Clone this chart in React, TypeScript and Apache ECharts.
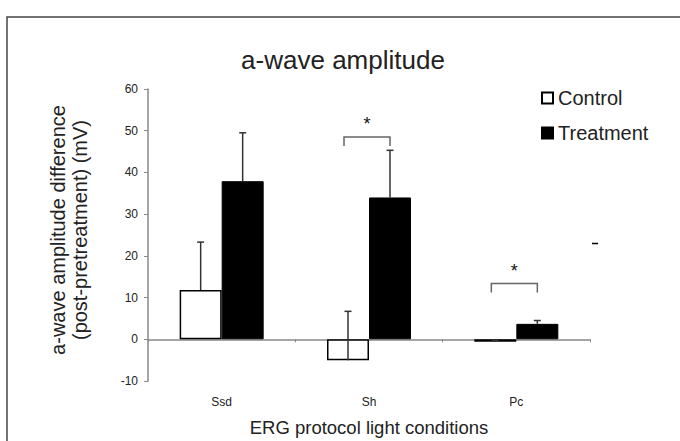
import React, { useEffect, useRef } from "react";
import * as echarts from "echarts";

const categories = ["Ssd", "Sh", "Pc"];
const seriesNames = ["Control", "Treatment"];
const controlValues = [11.8, -5.0, -0.6];
const treatmentValues = [37.9, 34.0, 3.7];
const controlErrors = [11.5, 11.7, 0.3];
const treatmentErrors = [11.6, 11.3, 0.8];
const yMin = -10;
const yMax = 60;
const yInterval = 10;
const sigCategories = [1, 2];
const sigLevels = [48.5, 13.4];
const sigLabels = ["*", "*"];

const FONT = '"Liberation Sans", Arial, Helvetica, sans-serif';
const TEXT = "#222";
const BAR_W = 42;

export default function App() {
  const ref = useRef<HTMLDivElement>(null);
  useEffect(() => {
    if (!ref.current) return;
    const chart = echarts.init(ref.current, undefined, { renderer: "svg" });

    const errRender = (offset: number) => (params: any, api: any) => {
      const c = api.value(0);
      const base = api.coord([c, api.value(1)]);
      const top = api.coord([c, api.value(2)]);
      const x = base[0] + offset;
      const st = { stroke: "#333", lineWidth: 1.5 };
      return {
        type: "group",
        children: [
          { type: "line", shape: { x1: x, y1: base[1], x2: x, y2: top[1] }, style: st },
          { type: "line", shape: { x1: x - 3.5, y1: top[1], x2: x + 3.5, y2: top[1] }, style: st },
        ],
      };
    };

    const bracketRender = (params: any, api: any) => {
      const p = api.coord([api.value(0), api.value(1)]);
      const x1 = p[0] - 25;
      const x2 = p[0] + 21;
      const y = p[1];
      return {
        type: "group",
        children: [
          {
            type: "polyline",
            shape: { points: [[x1, y + 9], [x1, y], [x2, y], [x2, y + 9]] },
            style: { stroke: "#666", lineWidth: 1.5, fill: "none" },
          },
          {
            type: "text",
            x: (x1 + x2) / 2,
            y: y - 12.5,
            style: {
              text: sigLabels[params.dataIndex],
              fontSize: 18,
              fontFamily: FONT,
              fill: "#111",
              align: "center",
              verticalAlign: "middle",
            },
          },
        ],
      };
    };

    chart.setOption({
      animation: false,
      backgroundColor: "#fff",
      textStyle: { fontFamily: FONT },
      grid: { left: 148, right: 90, top: 89, bottom: 60 },
      legend: {
        orient: "vertical",
        left: 541,
        top: 88,
        padding: 0,
        icon: "rect",
        itemWidth: 11,
        itemHeight: 11,
        itemGap: 15,
        data: seriesNames,
        textStyle: { fontSize: 20, color: TEXT, fontFamily: FONT, lineHeight: 20 },
      },
      xAxis: [
        {
          type: "category",
          data: categories,
          axisLine: { onZero: true, lineStyle: { color: "#888", width: 1.5 } },
          axisTick: { show: true, inside: false, length: 3, lineStyle: { color: "#888" } },
          axisLabel: { show: false },
        },
        {
          type: "category",
          data: categories,
          position: "bottom",
          axisLine: { show: false, onZero: false },
          axisTick: { show: false },
          axisLabel: { show: true, margin: 15, fontSize: 12, color: TEXT, fontFamily: FONT },
        },
      ],
      yAxis: {
        type: "value",
        min: yMin,
        max: yMax,
        interval: yInterval,
        axisLine: { show: true, lineStyle: { color: "#888", width: 1.5 } },
        axisTick: { show: true, length: 4, lineStyle: { color: "#888" } },
        axisLabel: { fontSize: 12, color: TEXT, margin: 10, fontFamily: FONT },
        splitLine: { show: false },
      },
      series: [
        {
          name: seriesNames[0],
          type: "bar",
          data: controlValues,
          barWidth: BAR_W,
          barGap: "0%",
          itemStyle: { color: "#fff", borderColor: "#000", borderWidth: 1.5 },
        },
        {
          name: seriesNames[1],
          type: "bar",
          data: treatmentValues,
          barWidth: BAR_W,
          barGap: "0%",
          itemStyle: { color: "#000", borderColor: "#000", borderWidth: 1 },
        },
        {
          type: "custom",
          z: 5,
          renderItem: errRender(-BAR_W / 2),
          encode: { x: 0, y: [1, 2] },
          data: categories.map((_, i) => [i, controlValues[i], controlValues[i] + controlErrors[i]]),
        },
        {
          type: "custom",
          z: 5,
          renderItem: errRender(BAR_W / 2),
          encode: { x: 0, y: [1, 2] },
          data: categories.map((_, i) => [i, treatmentValues[i], treatmentValues[i] + treatmentErrors[i]]),
        },
        {
          type: "custom",
          z: 5,
          renderItem: bracketRender,
          encode: { x: 0, y: 1 },
          data: sigCategories.map((c, i) => [c, sigLevels[i]]),
        },
      ],
      graphic: [
        {
          type: "rect",
          shape: { x: 7, y: 17, width: 800, height: 600 },
          style: { fill: "none", stroke: "#444", lineWidth: 1.5 },
          silent: true,
        },
        {
          type: "text",
          x: 343,
          y: 60,
          style: {
            text: "a-wave amplitude",
            fontSize: 26,
            fontFamily: FONT,
            fill: TEXT,
            align: "center",
            verticalAlign: "middle",
          },
        },
        {
          type: "text",
          x: 68.5,
          y: 230,
          rotation: Math.PI / 2,
          style: {
            text: "a-wave amplitude difference\n(post-pretreatment) (mV)",
            fontSize: 20,
            lineHeight: 22,
            fontFamily: FONT,
            fill: TEXT,
            align: "center",
            verticalAlign: "middle",
          },
        },
        {
          type: "text",
          x: 369,
          y: 427,
          style: {
            text: "ERG protocol light conditions",
            fontSize: 18.5,
            fontFamily: FONT,
            fill: TEXT,
            align: "center",
            verticalAlign: "middle",
          },
        },
        {
          type: "line",
          shape: { x1: 592, y1: 243.5, x2: 598, y2: 243.5 },
          style: { stroke: "#000", lineWidth: 1.5 },
        },
      ],
    });
    return () => chart.dispose();
  }, []);
  return (
    <div
      ref={ref}
      style={{ position: "absolute", left: 0, top: 0, width: 680, height: 441, background: "#fff" }}
    />
  );
}
